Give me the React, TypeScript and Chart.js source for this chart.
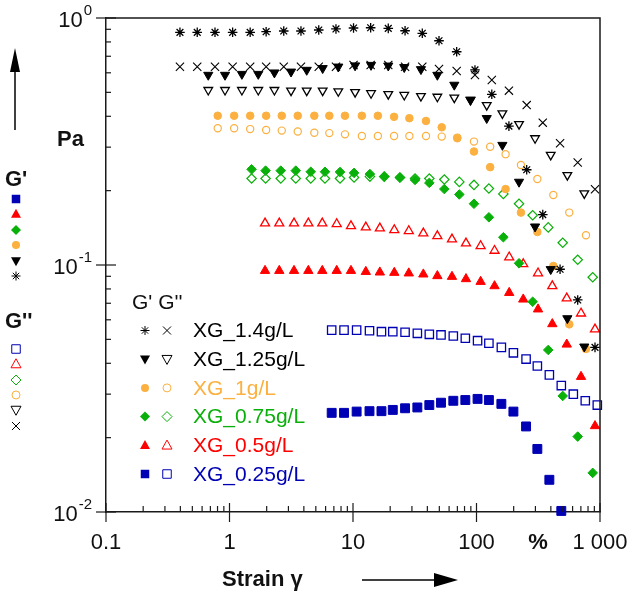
import React, { useEffect, useRef } from 'react';
import { Chart, registerables } from 'chart.js';

Chart.register(...registerables);

const FONT = '"Liberation Sans", Arial, Helvetica, sans-serif';
const AXIS = '#1a1a1a';
const BLACK = '#000000';
const ORANGE = '#FBB040';
const GREEN = '#0AB00A';
const RED = '#FF0000';
const BLUE = '#0000B4';

// ---- data: strain (%) and moduli (Pa) ----
const strain14 = [0.397, 0.548, 0.763, 1.06, 1.47, 1.98, 2.75, 3.79, 5.28, 7.28, 10.1, 13.9, 19.3, 26.4, 36.4, 49.7, 69.1, 97.2, 133, 183, 255, 344, 475, 660, 911];
const gp14 = [0.875, 0.875, 0.875, 0.875, 0.875, 0.88, 0.886, 0.886, 0.894, 0.903, 0.911, 0.913, 0.908, 0.888, 0.867, 0.809, 0.73, 0.616, 0.491, 0.365, 0.243, 0.16, 0.0961, 0.0722, 0.0464];
const gpp14 = [0.635, 0.635, 0.635, 0.635, 0.635, 0.635, 0.635, 0.635, 0.635, 0.635, 0.645, 0.645, 0.645, 0.635, 0.635, 0.622, 0.61, 0.588, 0.561, 0.508, 0.444, 0.377, 0.311, 0.26, 0.2025];

const strain125 = [0.673, 0.92, 1.26, 1.71, 2.31, 3.15, 4.22, 5.68, 7.6, 10.4, 14.0, 19.3, 26.0, 35.5, 48.2, 66.1, 89.4, 121, 162, 221, 298, 399, 544, 746];
const gp125 = [0.588, 0.588, 0.593, 0.593, 0.601, 0.606, 0.616, 0.626, 0.635, 0.642, 0.645, 0.641, 0.632, 0.62, 0.588, 0.536, 0.466, 0.393, 0.306, 0.217, 0.143, 0.0961, 0.0608, 0.0467];
const gpp125 = [0.511, 0.511, 0.511, 0.511, 0.511, 0.508, 0.508, 0.508, 0.505, 0.501, 0.496, 0.492, 0.488, 0.483, 0.48, 0.476, 0.466, 0.444, 0.411, 0.372, 0.326, 0.279, 0.231, 0.195];

const strain1 = [0.803, 1.09, 1.47, 1.98, 2.65, 3.57, 4.86, 6.43, 8.61, 11.8, 15.9, 21.5, 28.6, 39.0, 52.3, 69.9, 95.4, 129, 172, 229, 311, 419, 564, 770];
const gp1 = [0.402, 0.402, 0.402, 0.402, 0.402, 0.402, 0.402, 0.402, 0.402, 0.402, 0.402, 0.398, 0.393, 0.383, 0.361, 0.326, 0.288, 0.249, 0.203, 0.163, 0.136, 0.0991, 0.0575, 0.0457];
const gpp1 = [0.358, 0.358, 0.355, 0.352, 0.35, 0.347, 0.343, 0.342, 0.338, 0.333, 0.333, 0.333, 0.333, 0.333, 0.331, 0.328, 0.316, 0.301, 0.281, 0.254, 0.223, 0.192, 0.163, 0.132];

const strain075 = [1.51, 1.96, 2.6, 3.44, 4.55, 5.93, 7.85, 10.2, 13.7, 17.9, 24.0, 31.8, 41.5, 54.9, 72.6, 95.4, 126, 165, 221, 285, 381, 499, 660, 873];
const gp075 = [0.244, 0.241, 0.241, 0.241, 0.2385, 0.2385, 0.238, 0.236, 0.2335, 0.228, 0.226, 0.221, 0.215, 0.203, 0.193, 0.177, 0.156, 0.1295, 0.1016, 0.071, 0.0453, 0.0295, 0.0202, 0.0144];
const gpp075 = [0.224, 0.224, 0.224, 0.224, 0.224, 0.224, 0.224, 0.226, 0.228, 0.228, 0.226, 0.224, 0.224, 0.222, 0.217, 0.211, 0.204, 0.194, 0.177, 0.159, 0.142, 0.123, 0.105, 0.0892];

const strain05 = [1.94, 2.53, 3.33, 4.35, 5.64, 7.38, 9.63, 12.7, 16.5, 21.6, 28.3, 37.1, 48.2, 63.3, 82.2, 108, 140, 184, 239, 315, 411, 538, 702, 911];
const gp05 = [0.0948, 0.0948, 0.0948, 0.0948, 0.0948, 0.0948, 0.0948, 0.0939, 0.0934, 0.0931, 0.0926, 0.0917, 0.0903, 0.0897, 0.0878, 0.0856, 0.0822, 0.0772, 0.0726, 0.0662, 0.0577, 0.0477, 0.0353, 0.0223];
const gpp05 = [0.1475, 0.1475, 0.1475, 0.1475, 0.1475, 0.1466, 0.1438, 0.1421, 0.1408, 0.1386, 0.1373, 0.1344, 0.131, 0.1271, 0.1224, 0.1194, 0.1143, 0.1075, 0.1009, 0.0926, 0.0822, 0.0733, 0.0637, 0.0549];

const strain025 = [6.72, 8.46, 10.7, 13.6, 17.0, 21.0, 26.4, 33.2, 41.5, 51.6, 64.9, 81.2, 102, 126, 159, 199, 252, 311, 389, 486, 608, 760, 951];
const gp025 = [0.0252, 0.0252, 0.0255, 0.0256, 0.0256, 0.0259, 0.0263, 0.0265, 0.0271, 0.0277, 0.0282, 0.0284, 0.0287, 0.0284, 0.0274, 0.0255, 0.0222, 0.018, 0.0135, 0.0101];
const gpp025 = [0.0545, 0.0545, 0.0545, 0.0542, 0.0537, 0.0537, 0.0534, 0.0529, 0.0524, 0.0521, 0.0516, 0.0505, 0.0494, 0.0482, 0.0464, 0.0441, 0.0416, 0.039, 0.0359, 0.0325, 0.03, 0.0282, 0.0271];

const xTickValues = [0.1, 1, 10, 100, 1000];
const xTickLabels = ['0.1', '1', '10', '100', '1 000'];
const yTickValues = [1, 0.1, 0.01];
const yTickExponents = ['0', '-1', '-2'];

const legendLabels = ['XG_1.4g/L', 'XG_1.25g/L', 'XG_1g/L', 'XG_0.75g/L', 'XG_0.5g/L', 'XG_0.25g/L'];
const legendColors = [BLACK, BLACK, ORANGE, GREEN, RED, BLUE];
const gpKinds = ['star', 'triDown', 'circle', 'diamond', 'tri', 'square'];
const gppKinds = ['x', 'triDownOpen', 'circleOpen', 'diamondOpen', 'triOpen', 'squareOpen'];

const seriesStrain = [strain14, strain125, strain1, strain075, strain05, strain025];
const seriesGp = [gp14, gp125, gp1, gp075, gp05, gp025];
const seriesGpp = [gpp14, gpp125, gpp1, gpp075, gpp05, gpp025];

function pointOpts(kind: string, color: string) {
  const clear = 'rgba(255,255,255,0)';
  switch (kind) {
    case 'star':
      return { pointStyle: 'star', pointRadius: 4.8, pointBorderWidth: 1.3, pointBackgroundColor: color, pointBorderColor: color };
    case 'x':
      return { pointStyle: 'crossRot', pointRadius: 5.8, pointBorderWidth: 1.1, pointBackgroundColor: color, pointBorderColor: color };
    case 'triDown':
      return { pointStyle: 'triangle', pointRotation: 180, pointRadius: 5.3, pointBorderWidth: 1, pointBackgroundColor: color, pointBorderColor: color };
    case 'triDownOpen':
      return { pointStyle: 'triangle', pointRotation: 180, pointRadius: 5.0, pointBorderWidth: 1.3, pointBackgroundColor: clear, pointBorderColor: color };
    case 'circle':
      return { pointStyle: 'circle', pointRadius: 3.8, pointBorderWidth: 1, pointBackgroundColor: color, pointBorderColor: color };
    case 'circleOpen':
      return { pointStyle: 'circle', pointRadius: 3.6, pointBorderWidth: 1.2, pointBackgroundColor: clear, pointBorderColor: color };
    case 'diamond':
      return { pointStyle: 'rectRot', pointRadius: 4.8, pointBorderWidth: 1, pointBackgroundColor: color, pointBorderColor: color };
    case 'diamondOpen':
      return { pointStyle: 'rectRot', pointRadius: 4.7, pointBorderWidth: 1.2, pointBackgroundColor: clear, pointBorderColor: color };
    case 'tri':
      return { pointStyle: 'triangle', pointRadius: 5.4, pointBorderWidth: 1, pointBackgroundColor: color, pointBorderColor: color };
    case 'triOpen':
      return { pointStyle: 'triangle', pointRadius: 5.2, pointBorderWidth: 1.3, pointBackgroundColor: clear, pointBorderColor: color };
    case 'square':
      return { pointStyle: 'rect', pointRadius: 6.3, pointBorderWidth: 1, pointBackgroundColor: color, pointBorderColor: color };
    default:
      return { pointStyle: 'rect', pointRadius: 5.9, pointBorderWidth: 1.3, pointBackgroundColor: clear, pointBorderColor: color };
  }
}

function drawMarker(ctx: CanvasRenderingContext2D, kind: string, x: number, y: number, s: number, color: string) {
  ctx.save();
  ctx.strokeStyle = color;
  ctx.fillStyle = color;
  ctx.lineWidth = 1;
  ctx.beginPath();
  const open = kind.endsWith('Open') || kind === 'x' || kind === 'star';
  const k = kind.replace('Open', '');
  if (k === 'square') {
    const h = s * 0.85;
    ctx.rect(x - h, y - h, 2 * h, 2 * h);
  } else if (k === 'tri') {
    ctx.moveTo(x, y - s * 1.05);
    ctx.lineTo(x + s, y + s * 0.75);
    ctx.lineTo(x - s, y + s * 0.75);
    ctx.closePath();
  } else if (k === 'triDown') {
    ctx.moveTo(x, y + s * 1.05);
    ctx.lineTo(x + s, y - s * 0.75);
    ctx.lineTo(x - s, y - s * 0.75);
    ctx.closePath();
  } else if (k === 'diamond') {
    ctx.moveTo(x, y - s);
    ctx.lineTo(x + s, y);
    ctx.lineTo(x, y + s);
    ctx.lineTo(x - s, y);
    ctx.closePath();
  } else if (k === 'circle') {
    ctx.arc(x, y, s * 0.8, 0, Math.PI * 2);
  } else if (k === 'x') {
    const d = s * 0.8;
    ctx.moveTo(x - d, y - d); ctx.lineTo(x + d, y + d);
    ctx.moveTo(x + d, y - d); ctx.lineTo(x - d, y + d);
  } else if (k === 'star') {
    const d = s * 0.9;
    const e = d * Math.SQRT1_2;
    ctx.moveTo(x - d, y); ctx.lineTo(x + d, y);
    ctx.moveTo(x, y - d); ctx.lineTo(x, y + d);
    ctx.moveTo(x - e, y - e); ctx.lineTo(x + e, y + e);
    ctx.moveTo(x + e, y - e); ctx.lineTo(x - e, y + e);
  }
  if (open) ctx.stroke();
  else ctx.fill();
  ctx.restore();
}

function arrow(ctx: CanvasRenderingContext2D, x1: number, y1: number, x2: number, y2: number, headLen: number, headHalf: number) {
  const ang = Math.atan2(y2 - y1, x2 - x1);
  const bx = x2 - Math.cos(ang) * headLen;
  const by = y2 - Math.sin(ang) * headLen;
  ctx.save();
  ctx.strokeStyle = BLACK;
  ctx.fillStyle = BLACK;
  ctx.lineWidth = 1.5;
  ctx.beginPath();
  ctx.moveTo(x1, y1);
  ctx.lineTo(bx, by);
  ctx.stroke();
  ctx.beginPath();
  ctx.moveTo(x2, y2);
  ctx.lineTo(bx + Math.sin(ang) * headHalf, by - Math.cos(ang) * headHalf);
  ctx.lineTo(bx - Math.sin(ang) * headHalf, by + Math.cos(ang) * headHalf);
  ctx.closePath();
  ctx.fill();
  ctx.restore();
}

const decorPlugin = {
  id: 'decor',
  afterDraw(chart: any) {
    const ctx: CanvasRenderingContext2D = chart.ctx;
    const ca = chart.chartArea;
    const xs = chart.scales.x;
    const ys = chart.scales.y;
    ctx.save();
    ctx.strokeStyle = AXIS;
    ctx.lineWidth = 1.5;
    // top & right frame
    ctx.beginPath();
    ctx.moveTo(ca.left, ca.top);
    ctx.lineTo(ca.right, ca.top);
    ctx.lineTo(ca.right, ca.bottom);
    ctx.stroke();

    const isWhole = (v: number) => {
      const e = Math.floor(Math.log10(v) + 1e-9);
      const m = v / Math.pow(10, e);
      return { ok: Math.abs(m - Math.round(m)) < 1e-6, major: Math.round(m) === 1 || Math.round(m) === 10 };
    };

    ctx.lineWidth = 1.2;
    for (const t of xs.ticks) {
      const info = isWhole(t.value);
      if (!info.ok) continue;
      const px = xs.getPixelForValue(t.value);
      ctx.beginPath();
      if (info.major) {
        ctx.moveTo(px, ca.bottom - 9);
        ctx.lineTo(px, ca.bottom + 10);
      } else {
        ctx.moveTo(px, ca.bottom);
        ctx.lineTo(px, ca.bottom - 6);
      }
      ctx.stroke();
    }
    for (const t of ys.ticks) {
      const info = isWhole(t.value);
      if (!info.ok) continue;
      const py = ys.getPixelForValue(t.value);
      ctx.beginPath();
      if (info.major) {
        ctx.moveTo(ca.left - 10, py);
        ctx.lineTo(ca.left + 10, py);
      } else {
        ctx.moveTo(ca.left, py);
        ctx.lineTo(ca.left + 5, py);
      }
      ctx.stroke();
    }

    // x tick labels
    ctx.fillStyle = '#111';
    ctx.font = `22px ${FONT}`;
    ctx.textAlign = 'center';
    ctx.textBaseline = 'middle';
    xTickValues.forEach((v, i) => {
      ctx.fillText(xTickLabels[i], xs.getPixelForValue(v), ca.bottom + 31);
    });
    ctx.font = `bold 22px ${FONT}`;
    ctx.fillText('%', 538, ca.bottom + 31);

    // y tick labels 10^n
    yTickValues.forEach((v, i) => {
      const py = ys.getPixelForValue(v);
      ctx.font = `15px ${FONT}`;
      ctx.textAlign = 'left';
      const ew = ctx.measureText(yTickExponents[i]).width;
      const expLeft = 92 - ew;
      ctx.fillText(yTickExponents[i], expLeft, py - 7);
      ctx.font = `22px ${FONT}`;
      ctx.textAlign = 'right';
      ctx.fillText('10', expLeft - 1, py + 3);
    });

    // axis titles
    ctx.font = `bold 22px ${FONT}`;
    ctx.textAlign = 'left';
    ctx.fillText('Strain \u03B3', 222, 580);
    ctx.fillText('Pa', 57, 140);
    ctx.fillText("G'", 5, 180);
    ctx.fillText("G''", 5, 322);
    arrow(ctx, 362, 580, 458, 580, 24, 7);
    arrow(ctx, 15, 130, 15, 48, 24, 5);

    // left-hand symbol keys
    const gpY = [199, 214, 230, 245, 261, 276];
    const gppY = [349, 364, 380, 395, 410, 426];
    for (let i = 0; i < 6; i++) {
      const j = 5 - i;
      drawMarker(ctx, gpKinds[j], 16, gpY[i], 5, legendColors[j]);
      drawMarker(ctx, gppKinds[j], 16, gppY[i], 5, legendColors[j]);
    }

    // in-plot legend
    ctx.font = `21px ${FONT}`;
    ctx.textAlign = 'left';
    ctx.fillStyle = '#111';
    ctx.fillText("G' G''", 132, 303);
    legendLabels.forEach((lab, i) => {
      const y = 331.5 + i * 28.7;
      drawMarker(ctx, gpKinds[i], 145, y - 1, 5, legendColors[i]);
      drawMarker(ctx, gppKinds[i], 167, y - 1, 5, legendColors[i]);
      ctx.fillStyle = legendColors[i];
      ctx.fillText(lab, 193, y);
    });
    ctx.restore();
  },
};

export default function App() {
  const ref = useRef<HTMLCanvasElement | null>(null);
  useEffect(() => {
    if (!ref.current) return;
    const datasets: any[] = [];
    for (let i = 0; i < 6; i++) {
      const xs = seriesStrain[i];
      datasets.push({
        label: legendLabels[i] + " G'",
        data: seriesGp[i].map((v, k) => ({ x: xs[k], y: v })),
        showLine: false,
        clip: false,
        ...pointOpts(gpKinds[i], legendColors[i]),
      });
      datasets.push({
        label: legendLabels[i] + " G''",
        data: seriesGpp[i].map((v, k) => ({ x: xs[k], y: v })),
        showLine: false,
        clip: false,
        ...pointOpts(gppKinds[i], legendColors[i]),
      });
    }
    const chart = new Chart(ref.current, {
      type: 'scatter',
      data: { datasets },
      options: {
        responsive: false,
        animation: false,
        events: [],
        layout: { padding: { left: 0, right: 30, top: 18, bottom: 0 } },
        plugins: { legend: { display: false }, tooltip: { enabled: false } },
        scales: {
          x: {
            type: 'logarithmic',
            min: 0.1,
            max: 1000,
            grid: { display: false, drawTicks: false },
            border: { display: true, color: AXIS, width: 1.5 },
            ticks: { display: false },
            afterFit: (s: any) => { s.height = 83; },
          },
          y: {
            type: 'logarithmic',
            min: 0.01,
            max: 1,
            grid: { display: false, drawTicks: false },
            border: { display: true, color: AXIS, width: 1.5 },
            ticks: { display: false },
            afterFit: (s: any) => { s.width = 106; },
          },
        },
      } as any,
      plugins: [decorPlugin],
    });
    return () => chart.destroy();
  }, []);
  return (
    <div style={{ position: 'absolute', left: 0, top: 0, width: 630, height: 595, background: '#fff' }}>
      <canvas ref={ref} width={630} height={595} style={{ display: 'block' }} />
    </div>
  );
}
